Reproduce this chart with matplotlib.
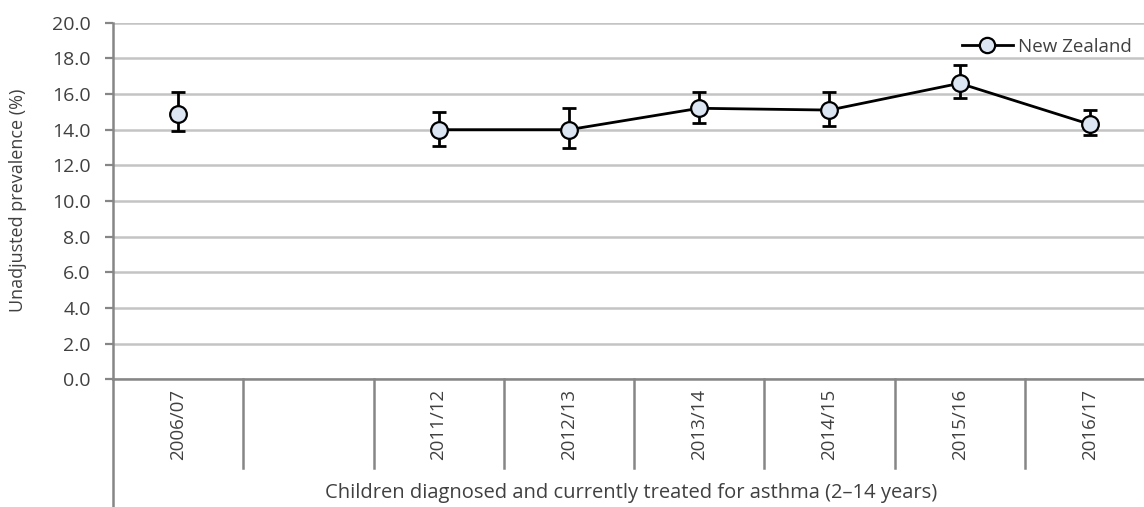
"""Children diagnosed and currently treated for asthma, New Zealand, unadjusted prevalence."""
import matplotlib
matplotlib.use("Agg")
import matplotlib.pyplot as plt
import matplotlib.transforms as mtrans
import numpy as np

INK, AXIS, GRID = "#404040", "#868686", "#c4c4c4"
plt.rcParams.update({
    "font.family": ["Open Sans", "DejaVu Sans"],
    "font.size": 13.5,
    "text.color": INK, "axes.labelcolor": INK,
    "xtick.color": INK, "ytick.color": INK,
})

# categorías: la segunda columna va vacía en el original
SURVEYS = ["2006/07", "", "2011/12", "2012/13", "2013/14", "2014/15", "2015/16", "2016/17"]
PREV = [14.9, np.nan, 14.0, 14.0, 15.2, 15.1, 16.6, 14.3]
CI_LO = [13.9, np.nan, 13.1, 13.0, 14.4, 14.2, 15.8, 13.7]
CI_HI = [16.1, np.nan, 15.0, 15.2, 16.1, 16.1, 17.6, 15.1]
YTICKS = [0, 2, 4, 6, 8, 10, 12, 14, 16, 18, 20]

W, H = 1144, 507
fig = plt.figure(figsize=(W / 100, H / 100), dpi=100)
fig.patch.set_facecolor("white")
# el eje se sale por la derecha, como en el original (recortado)
x0, x1, ytop, ybot = 113, 1155, 22.7, 379.3
ax = fig.add_axes([x0 / W, (H - ybot) / H, (x1 - x0) / W, (ybot - ytop) / H])

x = np.arange(len(SURVEYS))
prev = np.array(PREV)
lo = prev - np.array(CI_LO)
hi = np.array(CI_HI) - prev

# la línea solo une las encuestas consecutivas (2006/07 queda aislado)
mask = ~np.isnan(prev)
ax.plot(x[2:], prev[2:], color="black", lw=2, zorder=3)
ax.errorbar(x[mask], prev[mask], yerr=[lo[mask], hi[mask]], fmt="none",
            ecolor="black", elinewidth=2, capsize=5, capthick=2, zorder=4)
ax.plot(x[mask], prev[mask], ls="none", marker="o", ms=12, mfc="#dce6f2",
        mec="black", mew=1.6, zorder=5)

ax.set_xlim(-0.5, len(SURVEYS) - 0.5)
ax.set_ylim(0, 20)
ax.set_yticks(YTICKS)
ax.set_yticklabels([f"{v:.1f}" for v in YTICKS])
ax.yaxis.grid(True, color=GRID, lw=1.8)
ax.set_axisbelow(True)
ax.tick_params(axis="y", length=6, width=1.6, color=AXIS, pad=10, labelsize=14)
ax.set_xticks([])
for s in ["top", "right"]:
    ax.spines[s].set_visible(False)
for s in ["left", "bottom"]:
    ax.spines[s].set_color(AXIS)
    ax.spines[s].set_linewidth(1.8)

# separadores de categoría bajo el eje y etiquetas giradas
tr = mtrans.blended_transform_factory(ax.transData, ax.transAxes)
sep_bottom = -(468 - ybot) / (ybot - ytop)
for b in np.arange(0.5, len(SURVEYS) - 0.5):
    ax.plot([b, b], [0, sep_bottom], transform=tr, color=AXIS, lw=1.8,
            clip_on=False)
ax.plot([-0.5, -0.5], [0, -(H - ybot + 2) / (ybot - ytop)], transform=tr,
        color=AXIS, lw=1.8, clip_on=False)
lab_top = -(389 - ybot) / (ybot - ytop)
for xi, lab in zip(x, SURVEYS):
    ax.text(xi, lab_top, lab, transform=tr, rotation=90, ha="center",
            va="top", fontsize=13.5)

fig.text(631 / W, 1 - 493 / H,
         "Children diagnosed and currently treated for asthma (2\u201314 years)",
         ha="center", va="center", fontsize=14.5)
fig.text(18 / W, 1 - 200 / H, "Unadjusted prevalence (%)", rotation=90,
         ha="center", va="center", fontsize=13)

# leyenda (en el original queda casi cortada por el borde)
h, = ax.plot([], [], color="black", lw=2, marker="o", ms=11, mfc="#dce6f2",
             mec="black", mew=1.6)
fig.legend([h], ["New Zealand"], loc="center left",
           bbox_to_anchor=(962 / W, 1 - 47 / H), frameon=False,
           handlelength=2.7, handletextpad=0.3, borderpad=0, borderaxespad=0,
           fontsize=13.5)

fig.savefig("out.png", dpi=100)
